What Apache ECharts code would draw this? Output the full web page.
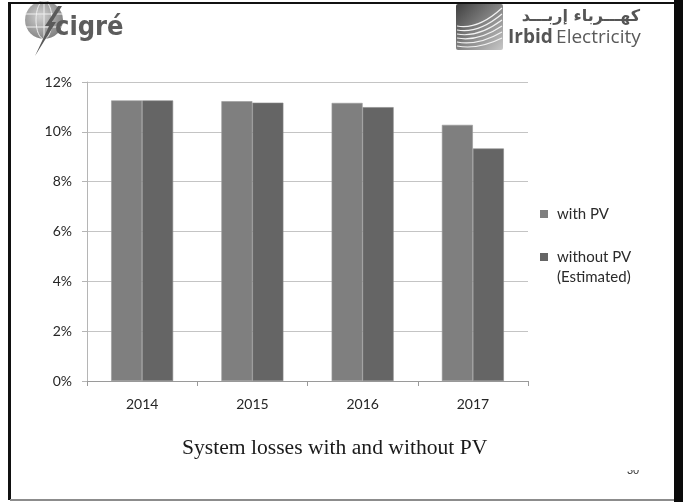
<!DOCTYPE html>
<html>
<head>
<meta charset="utf-8">
<title>System losses with and without PV</title>
<script src="https://cdn.jsdelivr.net/npm/echarts@6/dist/echarts.min.js"></script>
<style>
  html, body { margin: 0; padding: 0; background: #ffffff; }
  #chart { width: 683px; height: 502px; }
</style>
</head>
<body>
<div id="chart"></div>
<script>
// Yearly system losses (percent of energy)
const years = ['2014', '2015', '2016', '2017'];
const lossWithPV = [11.26, 11.23, 11.16, 10.28];
const lossWithoutPV = [11.26, 11.17, 10.99, 9.33];
const seriesNames = ['with PV', 'without PV\n(Estimated)'];
const seriesColors = ['#7f7f7f', '#656565'];
const chartTitle = 'System losses with and without PV';
const pageNumber = '30';

const AXIS_FONT = 'Lato, "Open Sans", sans-serif';

const chart = echarts.init(document.getElementById('chart'), null, { renderer: 'canvas' });

// Irbid Electricity emblem: curved lines sweeping across a shaded tile
const emblemCurves = [];
for (let i = 0; i < 6; i++) {
  emblemCurves.push({
    type: 'bezierCurve',
    shape: {
      x1: 457, y1: 26 + i * 4,
      cpx1: 478, cpy1: 30 + i * 4,
      x2: 502, y2: 8 + i * 6
    },
    style: { stroke: '#f2f2f2', lineWidth: 1.2, fill: null },
    z: 3
  });
}

const legendText = { fontFamily: AXIS_FONT, fontSize: 15, color: '#2a2a2a', lineHeight: 20, padding: [0, 0, 0, 4] };

const option = {
  backgroundColor: '#ffffff',
  animation: false,
  grid: { left: 87, right: 155, top: 82, bottom: 121, containLabel: false },
  legend: [
    {
      data: [seriesNames[0]],
      left: 540, top: 204, padding: 0, orient: 'vertical',
      icon: 'rect', itemWidth: 8, itemHeight: 8,
      itemStyle: { borderWidth: 0 },
      textStyle: legendText
    },
    {
      // leading blank line keeps the first text line level with the swatch
      data: [seriesNames[1]],
      formatter: name => '\n' + name,
      left: 540, top: 227, padding: 0, orient: 'vertical',
      icon: 'rect', itemWidth: 8, itemHeight: 8,
      itemStyle: { borderWidth: 0 },
      textStyle: legendText
    }
  ],
  xAxis: {
    type: 'category',
    data: years,
    axisLine: { show: true, lineStyle: { color: '#9a9a9a', width: 1 } },
    axisTick: { show: true, alignWithLabel: false, length: 5, lineStyle: { color: '#9a9a9a' } },
    axisLabel: { fontFamily: AXIS_FONT, fontSize: 14, color: '#262626', margin: 16 },
    splitLine: { show: false }
  },
  yAxis: {
    type: 'value',
    min: 0, max: 12, interval: 2,
    axisLine: { show: true, lineStyle: { color: '#b5b5b5', width: 1 } },
    axisTick: { show: true, inside: false, length: 5, lineStyle: { color: '#b5b5b5' } },
    axisLabel: { fontFamily: AXIS_FONT, fontSize: 14, color: '#262626', margin: 15, formatter: '{value}%' },
    splitLine: { show: true, lineStyle: { color: '#c4c4c4', width: 1 } }
  },
  series: [
    {
      name: seriesNames[0], type: 'bar', data: lossWithPV,
      barWidth: 31, barGap: '0%',
      itemStyle: { color: seriesColors[0], borderColor: '#9a9a9a', borderWidth: 0.6 }
    },
    {
      name: seriesNames[1], type: 'bar', data: lossWithoutPV,
      barWidth: 31, barGap: '0%',
      itemStyle: { color: seriesColors[1], borderColor: '#8a8a8a', borderWidth: 0.6 }
    }
  ],
  graphic: [
    // slide frame
    { type: 'rect', shape: { x: 8, y: 2, width: 675, height: 2 }, style: { fill: '#111' }, z: 10 },
    { type: 'rect', shape: { x: 8, y: 2, width: 3, height: 498 }, style: { fill: '#111' }, z: 10 },
    { type: 'rect', shape: { x: 674, y: 0, width: 9, height: 502 }, style: { fill: '#0a0a0a' }, z: 10 },
    { type: 'rect', shape: { x: 10, y: 499, width: 664, height: 2 }, style: { fill: '#8c8c8c' }, z: 10 },

    // CIGRE logo: globe with a lightning stroke, then the word mark
    {
      type: 'circle', shape: { cx: 44, cy: 20, r: 19 },
      style: {
        fill: { type: 'radial', x: 0.4, y: 0.4, r: 0.7,
          colorStops: [{ offset: 0, color: '#d0d0d0' }, { offset: 1, color: '#7a7a7a' }] }
      }, z: 2
    },
    { type: 'ellipse', shape: { cx: 44, cy: 20, rx: 8, ry: 19 }, style: { fill: null, stroke: '#efefef', lineWidth: 1 }, z: 3 },
    { type: 'line', shape: { x1: 25, y1: 14, x2: 63, y2: 14 }, style: { stroke: '#efefef', lineWidth: 1 }, z: 3 },
    { type: 'line', shape: { x1: 26, y1: 27, x2: 62, y2: 27 }, style: { stroke: '#efefef', lineWidth: 1 }, z: 3 },
    { type: 'line', shape: { x1: 44, y1: 1, x2: 44, y2: 39 }, style: { stroke: '#efefef', lineWidth: 1 }, z: 3 },
    {
      type: 'polygon',
      shape: { points: [[62, 6], [52, 22], [56, 22], [35, 56], [49, 26], [45, 26], [58, 6]] },
      style: { fill: '#5a5a5a' }, z: 4
    },
    {
      type: 'text', left: 55, top: 14,
      style: { text: 'cigré', font: 'bold 27px "DejaVu Sans Condensed", "DejaVu Sans", sans-serif', fill: '#5c5c5c' }, z: 4
    },

    // Irbid Electricity logo
    {
      type: 'rect', shape: { x: 456, y: 4, width: 47, height: 46, r: 2 },
      style: {
        fill: { type: 'linear', x: 0, y: 0, x2: 1, y2: 1,
          colorStops: [{ offset: 0, color: '#3f3f3f' }, { offset: 0.55, color: '#8a8a8a' }, { offset: 1, color: '#c8c8c8' }] }
      }, z: 2
    },
    ...emblemCurves,
    {
      type: 'text', right: 43, top: 9,
      style: { text: 'كهـــرباء إربـــد', font: 'bold 16px "DejaVu Sans", sans-serif', fill: '#555', align: 'right' }, z: 4
    },
    {
      type: 'text', left: 508, top: 28,
      style: {
        text: '{b|Irbid} {r|Electricity}',
        rich: {
          b: { font: 'bold 19px "Open Sans", sans-serif', fill: '#555' },
          r: { font: '19px "Open Sans", sans-serif', fill: '#5a5a5a' }
        }
      }, z: 4
    },

    // caption under the chart
    {
      type: 'text', left: 182, top: 437,
      style: { text: chartTitle, font: '21.6px "Liberation Serif", "Times New Roman", serif', fill: '#1a1a1a' }, z: 4
    },

    // page number, partly hidden under the text box edge
    {
      type: 'text', left: 627, top: 465,
      style: { text: pageNumber, font: '11px "Liberation Sans", sans-serif', fill: '#333' }, z: 4
    },
    { type: 'rect', shape: { x: 620, y: 455, width: 30, height: 15 }, style: { fill: '#ffffff' }, z: 5 }
  ]
};

chart.setOption(option);
</script>
</body>
</html>
